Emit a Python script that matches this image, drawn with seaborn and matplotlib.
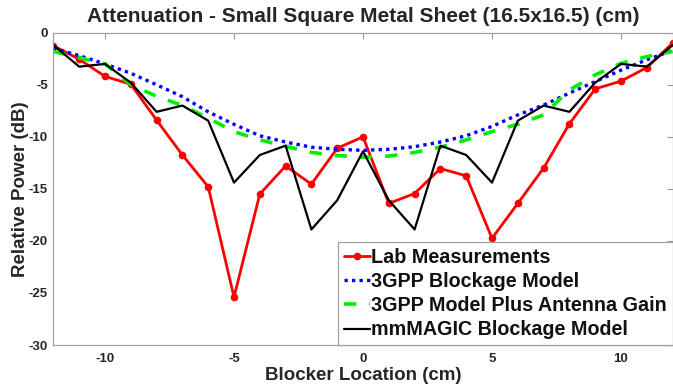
import numpy as np
import pandas as pd
import matplotlib
matplotlib.use("Agg")
import matplotlib.pyplot as plt
import seaborn as sns

# Blocker positions (cm) and relative received power (dB)
positions = list(range(-12, 13))
lab_measurements = [-1.25, -2.55, -4.2, -4.95, -8.4, -11.75, -14.8, -25.4, -15.5, -12.8,
                    -14.55, -11.1, -10.0, -16.4, -15.45, -13.05, -13.75, -19.75, -16.4,
                    -13.0, -8.75, -5.4, -4.65, -3.35, -1.0]
gpp_blockage = [-1.5, -2.2, -3.0, -3.9, -5.0, -6.15, -7.6, -8.8, -9.9, -10.5, -11.0, -11.2,
                -11.3, -11.2, -10.95, -10.5, -9.9, -9.0, -7.9, -6.95, -5.8, -4.7, -3.6,
                -2.6, -1.7]
gpp_antenna = [-1.8, -2.4, -3.0, -5.0, -6.1, -7.0, -8.2, -9.5, -10.3, -10.9, -11.5, -11.8,
               -11.95, -11.85, -11.5, -11.0, -10.3, -9.5, -8.8, -7.9, -5.5, -4.05, -2.95,
               -2.3, -1.8]
mmmagic = [-1.2, -3.26, -3.0, -4.8, -7.6, -7.0, -8.45, -14.4, -11.75, -10.85, -18.9, -16.1,
           -11.4, -16.1, -18.9, -10.85, -11.75, -14.4, -8.45, -7.0, -7.6, -4.8, -3.0,
           -3.26, -1.2]
series_names = ["Lab Measurements", "3GPP Blockage Model",
                "3GPP Model Plus Antenna Gain", "mmMAGIC Blockage Model"]
x_ticks = [-10, -5, 0, 5, 10]
y_ticks = [0, -5, -10, -15, -20, -25, -30]

sns.set_theme(style="white")
plt.rcParams["font.family"] = ["Liberation Sans", "DejaVu Sans"]
plt.rcParams["font.weight"] = "bold"

df = pd.DataFrame({
    "pos": positions * 4,
    "power": lab_measurements + gpp_blockage + gpp_antenna + mmmagic,
    "series": sum([[n] * len(positions) for n in series_names], []),
})

fig = plt.figure(figsize=(6.73, 3.88), dpi=100)
ax = fig.add_axes([53.4 / 673, 43 / 388, 619.2 / 673, 312.3 / 388])

styles = {
    "Lab Measurements": dict(color="#ff0000", lw=2.0, marker="o", markersize=5.5,
                             linestyle="-"),
    "3GPP Blockage Model": dict(color="#0000ff", lw=2.4, linestyle=(0, (1, 1.25))),
    "3GPP Model Plus Antenna Gain": dict(color="#00ee00", lw=2.6,
                                         linestyle=(0, (3.4, 3.6))),
    "mmMAGIC Blockage Model": dict(color="#000000", lw=1.6, linestyle="-"),
}
for name in series_names:
    sub = df[df["series"] == name]
    sns.lineplot(data=sub, x="pos", y="power", ax=ax, label=name,
                 markeredgewidth=0, **styles[name])

ax.set_xlim(-12, 12)
ax.set_ylim(-30, 0)
ax.set_xticks(x_ticks)
ax.set_yticks(y_ticks)
ax.set_xticklabels([str(t) for t in x_ticks], fontsize=9.5, fontweight="bold")
ax.set_yticklabels([str(t) for t in y_ticks], fontsize=9.5, fontweight="bold")
ax.tick_params(direction="in", length=4.5, width=0.8, color="#9a9a9a",
               top=True, right=True, labelcolor="#262626")
ax.tick_params(axis="x", pad=6)
ax.tick_params(axis="y", pad=4)
for sp in ax.spines.values():
    sp.set_color("#a0a0a0")
    sp.set_linewidth(0.9)

ax.set_title("Attenuation - Small Square Metal Sheet (16.5x16.5) (cm)",
             fontsize=15, fontweight="bold", pad=8, color="#262626")
ax.set_xlabel("Blocker Location (cm)", fontsize=13.5, fontweight="bold",
              labelpad=1, color="#262626")
ax.set_ylabel("Relative Power (dB)", fontsize=13.5, fontweight="bold",
              labelpad=0, color="#262626")

leg = ax.legend(loc="lower right", bbox_to_anchor=(1.0, 0.0), borderaxespad=0,
                fontsize=14.2, frameon=True, fancybox=False, framealpha=1,
                edgecolor="#a0a0a0", handlelength=1.32, handletextpad=0.08,
                labelspacing=0.27, borderpad=0.28)
leg.get_frame().set_linewidth(0.9)
for t in leg.get_texts():
    t.set_fontweight("bold")
    t.set_color("#111111")

fig.savefig("out.png", dpi=100)
